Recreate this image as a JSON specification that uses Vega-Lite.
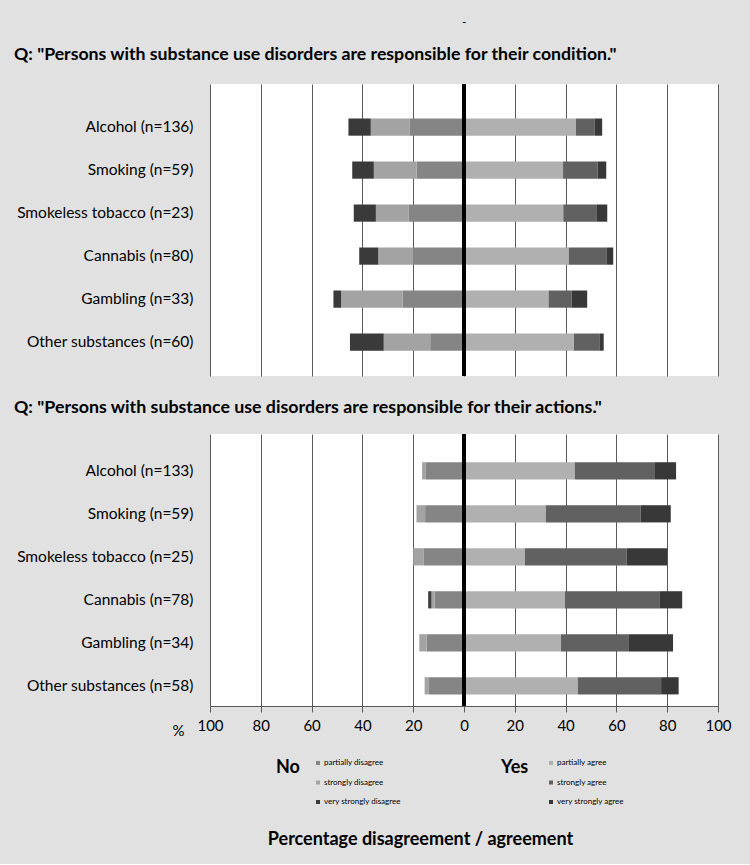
{
  "$schema": "https://vega.github.io/schema/vega-lite/v6.json",
  "background": "#e1e1e1",
  "padding": {"left": 14, "top": 16, "right": 32, "bottom": 16},
  "title": {"text": "-", "anchor": "start", "frame": "group", "dx": 252, "offset": 17, "fontSize": 12, "fontWeight": "normal", "font": "Lato", "color": "#000"},
  "config": {
    "font": "Lato",
    "view": {"fill": "white", "stroke": null},
    "axis": {"labelColor": "#000", "titleColor": "#000", "labelFont": "Lato", "titleFont": "Lato", "labelLimit": 300},
    "legend": {"labelFont": "Lato", "titleFont": "Lato", "labelColor": "#000", "titleColor": "#000"}
  },
  "data": {"values": [
    {"q": "condition", "cat": "Alcohol (n=136)", "side": "No", "level": "partially disagree", "v": -21.3},
    {"q": "condition", "cat": "Alcohol (n=136)", "side": "No", "level": "strongly disagree", "v": -15.4},
    {"q": "condition", "cat": "Alcohol (n=136)", "side": "No", "level": "very strongly disagree", "v": -8.8},
    {"q": "condition", "cat": "Alcohol (n=136)", "side": "Yes", "level": "partially agree", "v": 44.1},
    {"q": "condition", "cat": "Alcohol (n=136)", "side": "Yes", "level": "strongly agree", "v": 7.4},
    {"q": "condition", "cat": "Alcohol (n=136)", "side": "Yes", "level": "very strongly agree", "v": 2.9},
    {"q": "condition", "cat": "Smoking (n=59)", "side": "No", "level": "partially disagree", "v": -18.6},
    {"q": "condition", "cat": "Smoking (n=59)", "side": "No", "level": "strongly disagree", "v": -16.9},
    {"q": "condition", "cat": "Smoking (n=59)", "side": "No", "level": "very strongly disagree", "v": -8.5},
    {"q": "condition", "cat": "Smoking (n=59)", "side": "Yes", "level": "partially agree", "v": 39.0},
    {"q": "condition", "cat": "Smoking (n=59)", "side": "Yes", "level": "strongly agree", "v": 13.6},
    {"q": "condition", "cat": "Smoking (n=59)", "side": "Yes", "level": "very strongly agree", "v": 3.4},
    {"q": "condition", "cat": "Smokeless tobacco (n=23)", "side": "No", "level": "partially disagree", "v": -21.7},
    {"q": "condition", "cat": "Smokeless tobacco (n=23)", "side": "No", "level": "strongly disagree", "v": -13.0},
    {"q": "condition", "cat": "Smokeless tobacco (n=23)", "side": "No", "level": "very strongly disagree", "v": -8.7},
    {"q": "condition", "cat": "Smokeless tobacco (n=23)", "side": "Yes", "level": "partially agree", "v": 39.1},
    {"q": "condition", "cat": "Smokeless tobacco (n=23)", "side": "Yes", "level": "strongly agree", "v": 13.0},
    {"q": "condition", "cat": "Smokeless tobacco (n=23)", "side": "Yes", "level": "very strongly agree", "v": 4.3},
    {"q": "condition", "cat": "Cannabis (n=80)", "side": "No", "level": "partially disagree", "v": -20.0},
    {"q": "condition", "cat": "Cannabis (n=80)", "side": "No", "level": "strongly disagree", "v": -13.75},
    {"q": "condition", "cat": "Cannabis (n=80)", "side": "No", "level": "very strongly disagree", "v": -7.5},
    {"q": "condition", "cat": "Cannabis (n=80)", "side": "Yes", "level": "partially agree", "v": 41.25},
    {"q": "condition", "cat": "Cannabis (n=80)", "side": "Yes", "level": "strongly agree", "v": 15.0},
    {"q": "condition", "cat": "Cannabis (n=80)", "side": "Yes", "level": "very strongly agree", "v": 2.5},
    {"q": "condition", "cat": "Gambling (n=33)", "side": "No", "level": "partially disagree", "v": -24.2},
    {"q": "condition", "cat": "Gambling (n=33)", "side": "No", "level": "strongly disagree", "v": -24.2},
    {"q": "condition", "cat": "Gambling (n=33)", "side": "No", "level": "very strongly disagree", "v": -3.0},
    {"q": "condition", "cat": "Gambling (n=33)", "side": "Yes", "level": "partially agree", "v": 33.3},
    {"q": "condition", "cat": "Gambling (n=33)", "side": "Yes", "level": "strongly agree", "v": 9.1},
    {"q": "condition", "cat": "Gambling (n=33)", "side": "Yes", "level": "very strongly agree", "v": 6.1},
    {"q": "condition", "cat": "Other substances (n=60)", "side": "No", "level": "partially disagree", "v": -13.3},
    {"q": "condition", "cat": "Other substances (n=60)", "side": "No", "level": "strongly disagree", "v": -18.3},
    {"q": "condition", "cat": "Other substances (n=60)", "side": "No", "level": "very strongly disagree", "v": -13.3},
    {"q": "condition", "cat": "Other substances (n=60)", "side": "Yes", "level": "partially agree", "v": 43.3},
    {"q": "condition", "cat": "Other substances (n=60)", "side": "Yes", "level": "strongly agree", "v": 10.0},
    {"q": "condition", "cat": "Other substances (n=60)", "side": "Yes", "level": "very strongly agree", "v": 1.7},
    {"q": "actions", "cat": "Alcohol (n=133)", "side": "No", "level": "partially disagree", "v": -15.0},
    {"q": "actions", "cat": "Alcohol (n=133)", "side": "No", "level": "strongly disagree", "v": -1.5},
    {"q": "actions", "cat": "Alcohol (n=133)", "side": "Yes", "level": "partially agree", "v": 43.6},
    {"q": "actions", "cat": "Alcohol (n=133)", "side": "Yes", "level": "strongly agree", "v": 31.6},
    {"q": "actions", "cat": "Alcohol (n=133)", "side": "Yes", "level": "very strongly agree", "v": 8.3},
    {"q": "actions", "cat": "Smoking (n=59)", "side": "No", "level": "partially disagree", "v": -15.3},
    {"q": "actions", "cat": "Smoking (n=59)", "side": "No", "level": "strongly disagree", "v": -3.4},
    {"q": "actions", "cat": "Smoking (n=59)", "side": "Yes", "level": "partially agree", "v": 32.2},
    {"q": "actions", "cat": "Smoking (n=59)", "side": "Yes", "level": "strongly agree", "v": 37.3},
    {"q": "actions", "cat": "Smoking (n=59)", "side": "Yes", "level": "very strongly agree", "v": 11.9},
    {"q": "actions", "cat": "Smokeless tobacco (n=25)", "side": "No", "level": "partially disagree", "v": -16.0},
    {"q": "actions", "cat": "Smokeless tobacco (n=25)", "side": "No", "level": "strongly disagree", "v": -4.0},
    {"q": "actions", "cat": "Smokeless tobacco (n=25)", "side": "Yes", "level": "partially agree", "v": 24.0},
    {"q": "actions", "cat": "Smokeless tobacco (n=25)", "side": "Yes", "level": "strongly agree", "v": 40.0},
    {"q": "actions", "cat": "Smokeless tobacco (n=25)", "side": "Yes", "level": "very strongly agree", "v": 16.0},
    {"q": "actions", "cat": "Cannabis (n=78)", "side": "No", "level": "partially disagree", "v": -11.5},
    {"q": "actions", "cat": "Cannabis (n=78)", "side": "No", "level": "strongly disagree", "v": -1.3},
    {"q": "actions", "cat": "Cannabis (n=78)", "side": "No", "level": "very strongly disagree", "v": -1.3},
    {"q": "actions", "cat": "Cannabis (n=78)", "side": "Yes", "level": "partially agree", "v": 39.7},
    {"q": "actions", "cat": "Cannabis (n=78)", "side": "Yes", "level": "strongly agree", "v": 37.2},
    {"q": "actions", "cat": "Cannabis (n=78)", "side": "Yes", "level": "very strongly agree", "v": 9.0},
    {"q": "actions", "cat": "Gambling (n=34)", "side": "No", "level": "partially disagree", "v": -14.7},
    {"q": "actions", "cat": "Gambling (n=34)", "side": "No", "level": "strongly disagree", "v": -2.9},
    {"q": "actions", "cat": "Gambling (n=34)", "side": "Yes", "level": "partially agree", "v": 38.2},
    {"q": "actions", "cat": "Gambling (n=34)", "side": "Yes", "level": "strongly agree", "v": 26.5},
    {"q": "actions", "cat": "Gambling (n=34)", "side": "Yes", "level": "very strongly agree", "v": 17.6},
    {"q": "actions", "cat": "Other substances (n=58)", "side": "No", "level": "partially disagree", "v": -13.8},
    {"q": "actions", "cat": "Other substances (n=58)", "side": "No", "level": "strongly disagree", "v": -1.7},
    {"q": "actions", "cat": "Other substances (n=58)", "side": "Yes", "level": "partially agree", "v": 44.8},
    {"q": "actions", "cat": "Other substances (n=58)", "side": "Yes", "level": "strongly agree", "v": 32.8},
    {"q": "actions", "cat": "Other substances (n=58)", "side": "Yes", "level": "very strongly agree", "v": 6.9}
  ]},
  "bounds": "flush",
  "spacing": 58,
  "vconcat": [
    {
      "width": 508,
      "height": 292,
      "title": {"text": "Q: \"Persons with substance use disorders are responsible for their condition.\"", "anchor": "start", "frame": "group", "dx": -196, "offset": 19, "fontSize": 17.7, "fontWeight": "bold", "font": "Lato", "color": "#000"},
      "transform": [{"filter": "datum.q === 'condition'"}],
      "layer": [
        {
          "transform": [{"filter": "datum.side === 'No'"}],
          "mark": {"type": "bar"},
          "encoding": {
            "y": {"field": "cat", "type": "nominal", "scale": {"domain": ["Alcohol (n=136)", "Smoking (n=59)", "Smokeless tobacco (n=23)", "Cannabis (n=80)", "Gambling (n=33)", "Other substances (n=60)"], "paddingInner": 0.6, "paddingOuter": 0.695, "align": 0.577}, "axis": {"title": null, "ticks": false, "domain": false, "labelFontSize": 15.5, "labelPadding": 17, "labelLimit": 300}},
            "x": {"field": "v", "type": "quantitative", "stack": "zero", "scale": {"domain": [-100, 100], "nice": false}, "axis": {"values": [-100, -80, -60, -40, -20, 0, 20, 40, 60, 80, 100], "grid": true, "gridColor": "#5a5a5a", "labels": false, "ticks": false, "domain": false, "title": null}},
            "fill": {"field": "level", "type": "nominal", "scale": {"domain": ["partially disagree", "strongly disagree", "very strongly disagree"], "range": ["#858585", "#a3a3a3", "#3a3a3a"]}, "legend": {"title": "No", "orient": "none", "legendX": 66, "legendY": 675, "titleOrient": "left", "titleAnchor": "start", "titleBaseline": "top", "titleAngle": 0, "titleFontSize": 18, "titleFontWeight": "bold", "titlePadding": 14, "labelFontSize": 8, "symbolType": "square", "symbolSize": 16, "symbolStrokeWidth": 0, "rowPadding": 11.5, "labelOffset": 2}},
            "order": {"field": "level"}
          }
        },
        {
          "transform": [{"filter": "datum.side === 'Yes'"}],
          "mark": {"type": "bar"},
          "encoding": {
            "y": {"field": "cat", "type": "nominal"},
            "x": {"field": "v", "type": "quantitative", "stack": "zero", "axis": {"values": [-100, -80, -60, -40, -20, 0, 20, 40, 60, 80, 100], "grid": true, "gridColor": "#5a5a5a", "labels": false, "ticks": false, "domain": false, "title": null}},
            "color": {"field": "level", "type": "nominal", "scale": {"domain": ["partially agree", "strongly agree", "very strongly agree"], "range": ["#b0b0b0", "#616161", "#383838"]}, "legend": {"title": "Yes", "orient": "none", "legendX": 291, "legendY": 675, "titleOrient": "left", "titleAnchor": "start", "titleBaseline": "top", "titleAngle": 0, "titleFontSize": 18, "titleFontWeight": "bold", "titlePadding": 18, "labelFontSize": 8, "symbolType": "square", "symbolSize": 16, "symbolStrokeWidth": 0, "rowPadding": 11.5, "labelOffset": 2}},
            "order": {"field": "level"}
          }
        },
        {
          "mark": {"type": "rule", "color": "#000", "strokeWidth": 2.5},
          "encoding": {"x": {"datum": 0, "type": "quantitative", "axis": {"values": [-100, -80, -60, -40, -20, 0, 20, 40, 60, 80, 100], "grid": true, "gridColor": "#5a5a5a", "labels": false, "ticks": false, "domain": false, "title": null}}}
        }
      ]
    },
    {
      "width": 508,
      "height": 272,
      "title": {"text": "Q: \"Persons with substance use disorders are responsible for their actions.\"", "anchor": "start", "frame": "group", "dx": -196, "offset": 16, "fontSize": 17.8, "fontWeight": "bold", "font": "Lato", "color": "#000"},
      "transform": [{"filter": "datum.q === 'actions'"}],
      "layer": [
        {
          "transform": [{"filter": "datum.side === 'No'"}],
          "mark": {"type": "bar"},
          "encoding": {
            "y": {"field": "cat", "type": "nominal", "scale": {"domain": ["Alcohol (n=133)", "Smoking (n=59)", "Smokeless tobacco (n=25)", "Cannabis (n=78)", "Gambling (n=34)", "Other substances (n=58)"], "paddingInner": 0.6, "paddingOuter": 0.463, "align": 0.709}, "axis": {"title": "%", "titleAngle": 0, "titleX": -32, "titleY": 296, "titleAlign": "center", "titleBaseline": "middle", "titleFontSize": 15, "titleFontWeight": "normal", "ticks": false, "domain": false, "labelFontSize": 15.5, "labelPadding": 17, "labelLimit": 300}},
            "x": {"field": "v", "type": "quantitative", "stack": "zero", "scale": {"domain": [-100, 100], "nice": false}, "axis": {"values": [-100, -80, -60, -40, -20, 0, 20, 40, 60, 80, 100], "labelExpr": "abs(datum.value)", "labelFlush": false, "grid": true, "gridColor": "#5a5a5a", "ticks": true, "tickSize": 6, "tickColor": "#5a5a5a", "domain": true, "domainColor": "#5a5a5a", "labelFontSize": 15, "labelPadding": 6, "title": "Percentage disagreement / agreement", "titleFontSize": 18, "titleFontWeight": "bold", "titleX": 210, "titleY": 133, "titleBaseline": "middle", "titleAlign": "center"}},
            "fill": {"field": "level", "type": "nominal"},
            "order": {"field": "level"}
          }
        },
        {
          "transform": [{"filter": "datum.side === 'Yes'"}],
          "mark": {"type": "bar"},
          "encoding": {
            "y": {"field": "cat", "type": "nominal"},
            "x": {"field": "v", "type": "quantitative", "stack": "zero", "axis": {"values": [-100, -80, -60, -40, -20, 0, 20, 40, 60, 80, 100], "labelExpr": "abs(datum.value)", "labelFlush": false, "grid": true, "gridColor": "#5a5a5a", "ticks": true, "tickSize": 6, "tickColor": "#5a5a5a", "domain": true, "domainColor": "#5a5a5a", "labelFontSize": 15, "labelPadding": 6, "title": "Percentage disagreement / agreement", "titleFontSize": 18, "titleFontWeight": "bold", "titleX": 210, "titleY": 133, "titleBaseline": "middle", "titleAlign": "center"}},
            "color": {"field": "level", "type": "nominal"},
            "order": {"field": "level"}
          }
        },
        {
          "mark": {"type": "rule", "color": "#000", "strokeWidth": 2.5},
          "encoding": {"x": {"datum": 0, "type": "quantitative", "axis": {"values": [-100, -80, -60, -40, -20, 0, 20, 40, 60, 80, 100], "labelExpr": "abs(datum.value)", "labelFlush": false, "grid": true, "gridColor": "#5a5a5a", "ticks": true, "tickSize": 6, "tickColor": "#5a5a5a", "domain": true, "domainColor": "#5a5a5a", "labelFontSize": 15, "labelPadding": 6, "title": "Percentage disagreement / agreement", "titleFontSize": 18, "titleFontWeight": "bold", "titleX": 210, "titleY": 133, "titleBaseline": "middle", "titleAlign": "center"}}}
        }
      ]
    }
  ]
}
